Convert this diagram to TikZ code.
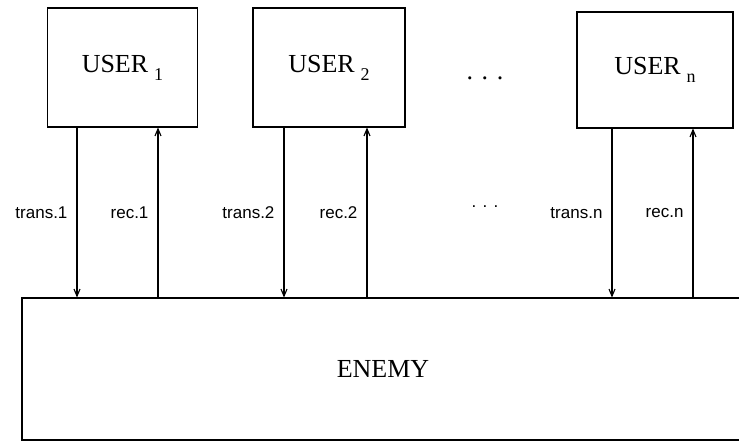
\documentclass[tikz,border=0pt]{standalone}
\usepackage{fontspec}
\setmainfont{Liberation Serif}
\newfontfamily\labelfont{Liberation Sans}
\usepackage{tikz}
\usetikzlibrary{arrows.meta,positioning}
\newcommand{\usr}[1]{USER\hspace{6pt}\raisebox{-8pt}{\fontsize{18}{18}\selectfont #1}}

\begin{document}
\begin{tikzpicture}[x=1pt,y=-1pt,>={Straight Barb[length=7pt,width=6pt]},line width=1.1pt]
\tikzstyle{user}=[draw,minimum width=150pt,minimum height=119pt,inner sep=0pt,font=\fontsize{26}{26}\selectfont]
\tikzstyle{lab}=[font=\labelfont\fontsize{17}{17}\selectfont,inner sep=0pt,xshift=-9pt]
\useasboundingbox (0,0) rectangle (739,442);
\clip (0,0) rectangle (739,442);
\node[user] (u1) at (122.5,67.5) {\usr{1}};
\node[user,minimum width=152pt] (u2) at (329,67.5) {\usr{2}};
\node[user,minimum width=156pt,minimum height=116pt] (un) at (655,70) {\usr{n}};
\node[font=\fontsize{26}{26}\selectfont] (dtop) at (485,78) {. . .};
\node[draw,minimum width=722pt,minimum height=142pt,font=\fontsize{26}{26}\selectfont] (enemy) at (383,369) {ENEMY};
\foreach \u/\tx/\rx/\k in {u1/77/158/1,u2/284/367/2,un/612/693/n}{
    \coordinate (t\k) at (\tx,0);
    \coordinate (r\k) at (\rx,0);
    \draw[->] (\u.south -| t\k) -- node[lab,left] {trans.\k} (enemy.north -| t\k);
    \draw[->] (enemy.north -| r\k) -- node[lab,left] {rec.\k} (\u.south -| r\k);
}
\node[font=\labelfont\fontsize{17}{17}\selectfont] (dbot) at (485,207) {. . .};
\end{tikzpicture}
\end{document}
